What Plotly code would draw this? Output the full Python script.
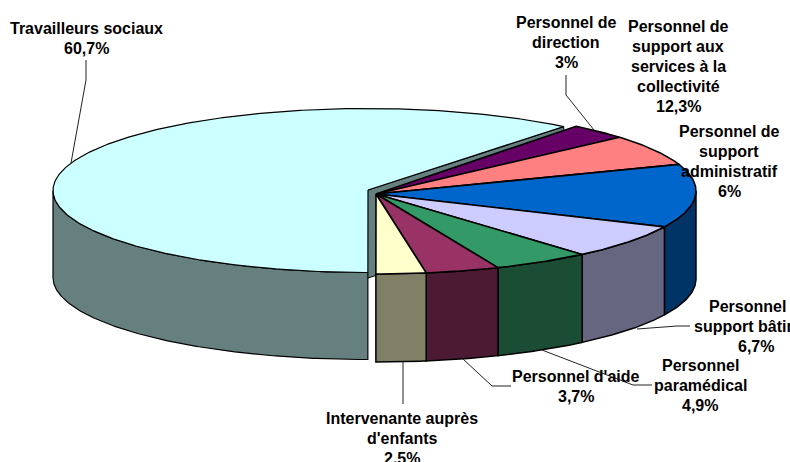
import numpy as np
import plotly.graph_objects as go

# ---- data ----
categories = ["Personnel de direction", "Personnel de support administratif",
              "Personnel de support aux services à la collectivité",
              "Personnel de support bâtiment", "Personnel paramédical",
              "Personnel d'aide", "Intervenante auprès d'enfants",
              "Travailleurs sociaux"]
values = [3, 6, 12.3, 6.7, 4.9, 3.7, 2.5, 60.7]
top_colors = ["#660066", "#FF8080", "#0066CC", "#CCCCFF", "#339966", "#993366", "#FFFFCC", "#CCFFFF"]
side_colors = ["#330033", "#804040", "#003366", "#666680", "#1A4D33", "#4D1A33", "#808066", "#668080"]

# label lines: (x, first-line y, anchor, lines)
label_text = [
    (566, 22, "center", ["Personnel de", "direction", "3%"]),
    (729, 131, "center", ["Personnel de", "support", "administratif", "6%"]),
    (678, 26, "center", ["Personnel de", "support aux", "services à la", "collectivité", "12,3%"]),
    (707, 306, "left", ["Personnel"]),
    (692, 326, "left", ["support bâtiment"]),
    (756, 346, "center", ["6,7%"]),
    (700, 365, "center", ["Personnel", "paramédical", "4,9%"]),
    (576, 376, "center", ["Personnel d'aide", "3,7%"]),
    (402, 418, "center", ["Intervenante auprès", "d'enfants", "2,5%"]),
    (86, 28, "center", ["Travailleurs sociaux", "60,7%"]),
]
leaders = [
    ([566, 566, 594], [75, 95, 130]),
    ([690, 677, 637], [326, 326, 329]),
    ([652, 633, 542], [385, 385, 350]),
    ([511, 492, 463], [386, 386, 359]),
    ([403, 403], [404, 362]),
    ([86, 86, 71], [60, 80, 163]),
]

# ---- pie geometry ----
START = 38.8
DEPTH = 88
MAIN = dict(cx=375, cy=191, rx=321, ry=83, ax=376, ay=194)
EXPL = dict(cx=367, cy=190.5, rx=314, ry=82, ax=368, ay=190)


def edge(g, a0, a1, dy=0):
    t = np.radians(np.linspace(a0, a1, max(2, int(abs(a1 - a0) * 2) + 1)))
    return g["cx"] + g["rx"] * np.sin(t), g["cy"] - g["ry"] * np.cos(t) + dy


fig = go.Figure()


def poly(x, y, fill, lw=1.3):
    fig.add_trace(go.Scatter(x=list(x), y=list(y), mode="lines", fill="toself", fillcolor=fill,
                             line=dict(color="black", width=lw), hoverinfo="skip", showlegend=False))


total = sum(values)
bounds = START + np.concatenate([[0], np.cumsum(values)]) * 360 / total

# far cut face of the pulled-out slice
a0, a1 = bounds[-2], bounds[-1]
tx, ty = edge(EXPL, a1, a1)
poly([EXPL["ax"], tx[0], tx[0], EXPL["ax"]],
     [EXPL["ay"], ty[0], ty[0] + DEPTH, EXPL["ay"] + DEPTH], side_colors[-1], 1)

# pulled-out slice: side wall then top
x1, y1 = edge(EXPL, a0, 270)
x2, y2 = edge(EXPL, 270, a0, DEPTH - 1)
poly(np.r_[x1, x2, x1[0]], np.r_[y1, y2, y1[0]], side_colors[-1], 1.2)
x, y = edge(EXPL, a0, a1)
poly(np.r_[EXPL["ax"], x, EXPL["ax"]], np.r_[EXPL["ay"], y, EXPL["ay"]], top_colors[-1], 1.2)

# other slices: side walls
for i in range(len(values) - 1):
    lo, hi = max(bounds[i], 90), min(bounds[i + 1], 270)
    if hi > lo:
        x1, y1 = edge(MAIN, lo, hi)
        x2, y2 = edge(MAIN, hi, lo, DEPTH)
        poly(np.r_[x1, x2, x1[0]], np.r_[y1, y2, y1[0]], side_colors[i], 1.5)

# other slices: tops
for i in range(len(values) - 1):
    x, y = edge(MAIN, bounds[i], bounds[i + 1])
    poly(np.r_[MAIN["ax"], x, MAIN["ax"]], np.r_[MAIN["ay"], y, MAIN["ay"]], top_colors[i], 1.6)

# leader lines
for lx, ly in leaders:
    fig.add_trace(go.Scatter(x=lx, y=ly, mode="lines", line=dict(color="#222222", width=1),
                             hoverinfo="skip", showlegend=False))

# labels
LINE = 20
for cx, y0, anchor, lines in label_text:
    for k, s in enumerate(lines):
        fig.add_annotation(x=cx, y=y0 + k * LINE, text=f"<b>{s}</b>", showarrow=False,
                           xanchor=anchor, yanchor="middle",
                           font=dict(family="Liberation Sans, Arial, sans-serif", size=16, color="black"))

fig.update_layout(width=790, height=462, margin=dict(l=0, r=0, t=0, b=0),
                  paper_bgcolor="white", plot_bgcolor="white", showlegend=False,
                  xaxis=dict(range=[0, 790], visible=False, fixedrange=True),
                  yaxis=dict(range=[462, 0], visible=False, fixedrange=True))

fig.write_html("out.html", config={"displayModeBar": False},
               post_script="document.body.style.margin='0';document.body.style.overflow='hidden';")
